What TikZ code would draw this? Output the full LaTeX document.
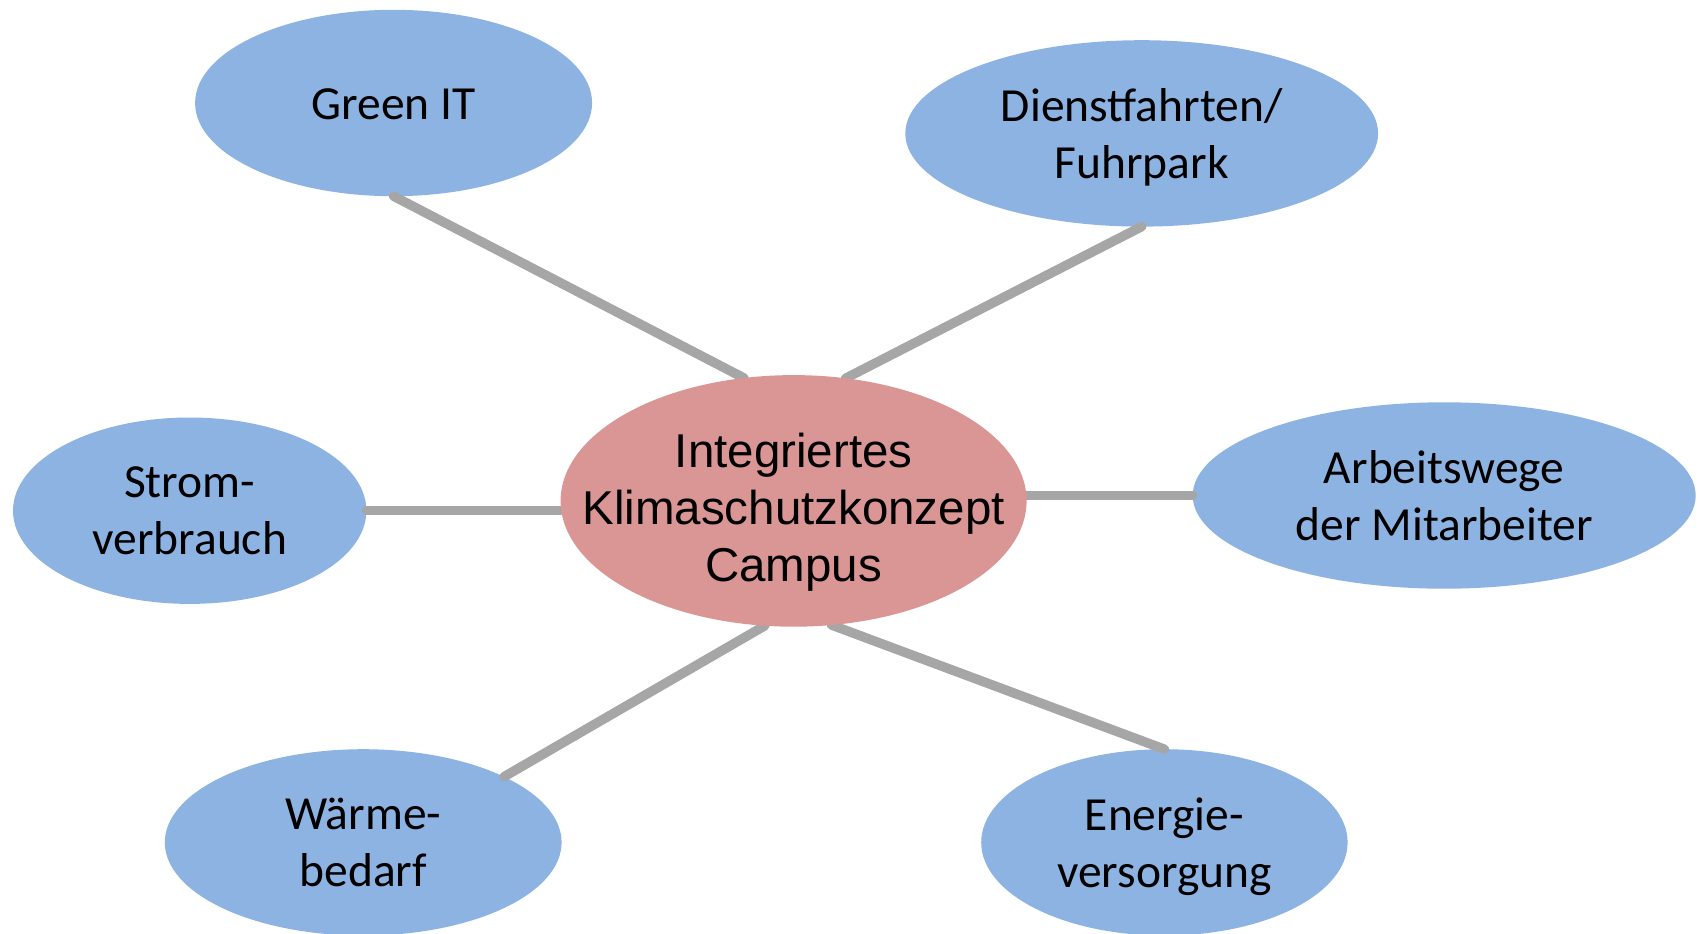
\documentclass[tikz,border=0pt]{standalone}
\usepackage{fontspec}
\newfontfamily\calib{Carlito}
\newfontfamily\arialf{Liberation Sans}
\usetikzlibrary{shapes.geometric}
\definecolor{blueC}{HTML}{8DB3E2}
\definecolor{pinkC}{HTML}{D99694}
\definecolor{lineC}{HTML}{A6A6A6}
\newcommand\topS{\rule{0pt}{45.2pt}}
\newcommand\botS{\rule[-12.8pt]{0pt}{12.8pt}}
\begin{document}
\begin{tikzpicture}[x=1pt,y=-1pt,
  blob/.style={ellipse, fill=blueC, inner sep=0pt, outer sep=0pt, minimum height=186.4pt},
  hub/.style={ellipse, fill=pinkC, inner sep=0pt, outer sep=0pt},
  lbl/.style={align=center, inner sep=0pt, execute at begin node=\topS, execute at end node=\botS,
    font=\calib\fontsize{47.5}{56.7}\selectfont},
  lbltwo/.style={lbl, yshift=-6.5pt},
  hublbl/.style={align=center, inner sep=0pt, font=\arialf\fontsize{47.5}{57}\selectfont},
  conn/.style={draw=lineC, line width=9.5pt, line cap=round}]
\useasboundingbox (0,0) rectangle (1700,934);
% outer ellipses
\node[blob, minimum width=397pt]   (git) at (393.6,103) {};
\node[blob, minimum width=472.8pt] (df)  at (1141.7,133.4) {};
\node[blob, minimum width=353.4pt] (sv)  at (189.7,510.7) {};
\node[blob, minimum width=503pt]   (aw)  at (1444.2,495.5) {};
\node[blob, minimum width=396.8pt] (wb)  at (363.2,842.4) {};
\node[blob, minimum width=366.4pt] (ev)  at (1164.4,842.4) {};
% hub shape (anchors only)
\path node[hub, fill=none, minimum width=466pt, minimum height=251.6pt] (c) at (793.6,500.9) {};
% connectors
\draw[conn] (git.south) -- (c.112.3);
\draw[conn] (df.south) -- (c.67.2);
\draw[conn] (sv.east) -- (sv.east -| c.west);
\draw[conn] (c.east |- aw.west) -- (aw.west);
\draw[conn] (wb.25) -- (c.257.3);
\draw[conn] (ev.north) -- (c.287.9);
% hub drawn over connectors
\node[hub, minimum width=466pt, minimum height=251.6pt] (cfill) at (c) {};
% labels
\node[lbl]    (gitT) at (git) {Green IT};
\node[lbltwo] (dfT)  at (df)  {Dienstfahrten/\\Fuhrpark};
\node[lbltwo] (svT)  at (sv)  {Strom-\\verbrauch};
\node[lbltwo] (awT)  at (aw)  {Arbeitswege\\der Mitarbeiter};
\node[lbltwo] (wbT)  at (wb)  {Wärme-\\bedarf};
\node[lbltwo] (evT)  at (ev)  {Energie-\\versorgung};
\node[hublbl] (cT) at (793.6,512) {Integriertes\\Klimaschutzkonzept\\Campus};
\end{tikzpicture}
\end{document}
